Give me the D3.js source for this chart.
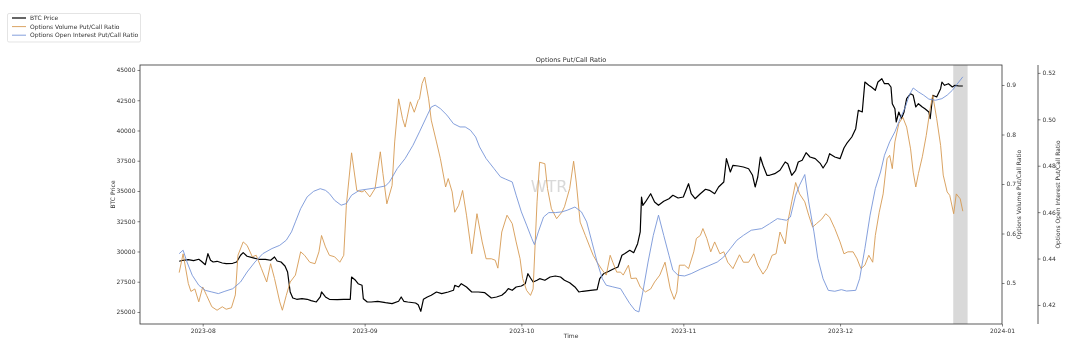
<!DOCTYPE html>
<html>
<head>
<meta charset="utf-8">
<script src="https://cdn.jsdelivr.net/npm/d3@7"></script>
<style>
  html, body { margin: 0; padding: 0; background: #fff; }
  svg { display: block; font-family: "DejaVu Sans", sans-serif; will-change: transform; }
  svg text { -webkit-font-smoothing: antialiased; }
</style>
</head>
<body>
<svg id="chart" width="1077" height="355"></svg>
<script>
// ---------------- DATA ----------------
const btcDates = ["2023-07-27 12","2023-07-28 06","2023-07-29 06","2023-07-30 06","2023-07-31 06","2023-07-31 18","2023-08-01 12","2023-08-02 00","2023-08-02 12","2023-08-03 00","2023-08-03 18","2023-08-04 18","2023-08-05 12","2023-08-06 18","2023-08-07 12","2023-08-08 06","2023-08-08 18","2023-08-09 12","2023-08-10 12","2023-08-11 18","2023-08-13 00","2023-08-14 00","2023-08-14 18","2023-08-15 06","2023-08-16 00","2023-08-16 18","2023-08-17 06","2023-08-17 12","2023-08-17 18","2023-08-18 06","2023-08-19 00","2023-08-20 00","2023-08-21 00","2023-08-21 18","2023-08-22 18","2023-08-23 12","2023-08-23 18","2023-08-24 12","2023-08-25 06","2023-08-26 18","2023-08-28 00","2023-08-29 06","2023-08-29 12","2023-08-30 06","2023-08-30 18","2023-08-31 12","2023-08-31 18","2023-09-01 12","2023-09-02 06","2023-09-03 12","2023-09-05 00","2023-09-06 06","2023-09-07 12","2023-09-08 00","2023-09-08 12","2023-09-09 06","2023-09-10 18","2023-09-11 06","2023-09-11 18","2023-09-12 06","2023-09-13 00","2023-09-13 18","2023-09-14 18","2023-09-15 18","2023-09-17 00","2023-09-18 00","2023-09-18 06","2023-09-19 00","2023-09-19 12","2023-09-20 12","2023-09-21 12","2023-09-22 18","2023-09-24 00","2023-09-25 06","2023-09-26 06","2023-09-27 06","2023-09-28 00","2023-09-28 12","2023-09-29 06","2023-09-30 00","2023-10-01 00","2023-10-01 18","2023-10-02 06","2023-10-02 18","2023-10-03 06","2023-10-04 00","2023-10-04 12","2023-10-05 12","2023-10-06 12","2023-10-07 12","2023-10-08 12","2023-10-09 06","2023-10-10 06","2023-10-11 06","2023-10-12 00","2023-10-12 18","2023-10-14 06","2023-10-15 12","2023-10-16 00","2023-10-16 18","2023-10-17 18","2023-10-18 12","2023-10-19 12","2023-10-20 06","2023-10-20 18","2023-10-21 18","2023-10-22 12","2023-10-23 06","2023-10-23 18","2023-10-24 00","2023-10-24 06","2023-10-24 18","2023-10-25 18","2023-10-26 12","2023-10-27 06","2023-10-28 06","2023-10-29 06","2023-10-30 00","2023-10-31 00","2023-11-01 00","2023-11-02 00","2023-11-02 12","2023-11-03 06","2023-11-04 06","2023-11-05 06","2023-11-06 00","2023-11-07 00","2023-11-07 18","2023-11-08 18","2023-11-09 06","2023-11-10 00","2023-11-10 12","2023-11-11 12","2023-11-12 12","2023-11-13 12","2023-11-14 06","2023-11-14 18","2023-11-15 06","2023-11-15 18","2023-11-16 06","2023-11-17 00","2023-11-17 12","2023-11-18 12","2023-11-19 12","2023-11-20 12","2023-11-21 00","2023-11-21 18","2023-11-22 12","2023-11-23 00","2023-11-23 18","2023-11-24 12","2023-11-25 06","2023-11-26 06","2023-11-27 06","2023-11-27 18","2023-11-28 12","2023-11-29 00","2023-11-30 00","2023-12-01 00","2023-12-01 18","2023-12-02 06","2023-12-03 06","2023-12-04 00","2023-12-04 12","2023-12-05 06","2023-12-05 18","2023-12-06 12","2023-12-07 00","2023-12-07 18","2023-12-08 06","2023-12-09 00","2023-12-09 12","2023-12-10 06","2023-12-10 18","2023-12-11 00","2023-12-11 12","2023-12-11 18","2023-12-12 06","2023-12-12 18","2023-12-13 06","2023-12-13 18","2023-12-14 12","2023-12-15 00","2023-12-15 12","2023-12-16 00","2023-12-16 18","2023-12-17 06","2023-12-18 00","2023-12-18 06","2023-12-18 18","2023-12-19 12","2023-12-20 06","2023-12-20 12","2023-12-21 00","2023-12-21 18","2023-12-22 12","2023-12-23 00","2023-12-23 18","2023-12-24 12"];
const btcPrice = [29191,29274,29323,29240,29356,29191,28910,29819,29274,29133,29191,29050,28993,29026,29133,29687,29902,29604,29489,29356,29356,29274,29546,29216,29133,28803,28307,27480,26654,26158,26051,26100,26051,25935,25828,26241,26654,26241,26051,26018,26051,26051,27894,27621,27340,27208,26100,25828,25828,25885,25770,25687,25885,26241,25885,25828,25745,25604,25059,26051,26241,26381,26654,26514,26654,26794,27208,27067,27340,27067,26654,26654,26596,26158,26241,26381,26654,26927,26794,27067,27150,27340,28166,27811,27480,27621,27753,27621,27894,27976,27894,27621,27423,27067,26654,26712,26794,26844,27753,28166,28365,28530,28720,29687,29819,30100,29902,30645,31612,34505,33819,34092,34777,34092,33819,34149,34364,34645,34422,34505,35604,34777,34364,34777,35141,35058,34777,35331,35744,37670,36571,37124,37067,36984,36843,36298,35331,36158,37810,37124,36298,36298,36430,36711,37397,37257,36298,36711,37397,37538,38166,37810,37670,37257,36901,37397,38083,37810,37670,38554,38909,39463,40149,41670,41529,44008,43736,43595,43322,44008,44281,43868,43868,43595,42215,41802,40703,41529,40975,41529,42628,43041,42909,41942,42215,41942,41802,41529,40975,42909,42769,43455,44008,43736,43868,43595,43736,43678,43678];

const volDates = ["2023-07-27 12","2023-07-28 06","2023-07-29 06","2023-07-29 18","2023-07-30 12","2023-07-31 06","2023-08-01 00","2023-08-01 18","2023-08-02 18","2023-08-03 18","2023-08-04 18","2023-08-05 12","2023-08-06 12","2023-08-07 06","2023-08-07 18","2023-08-08 18","2023-08-09 12","2023-08-10 12","2023-08-11 06","2023-08-12 06","2023-08-13 06","2023-08-14 00","2023-08-14 18","2023-08-15 18","2023-08-16 06","2023-08-17 00","2023-08-17 18","2023-08-18 18","2023-08-19 18","2023-08-20 12","2023-08-21 12","2023-08-22 12","2023-08-23 06","2023-08-23 18","2023-08-24 12","2023-08-25 06","2023-08-26 06","2023-08-27 06","2023-08-28 00","2023-08-28 12","2023-08-29 12","2023-08-30 12","2023-08-31 12","2023-09-01 00","2023-09-02 00","2023-09-03 00","2023-09-04 00","2023-09-04 12","2023-09-05 06","2023-09-06 06","2023-09-06 18","2023-09-07 12","2023-09-08 06","2023-09-08 18","2023-09-09 18","2023-09-10 12","2023-09-11 06","2023-09-11 12","2023-09-12 00","2023-09-12 12","2023-09-13 06","2023-09-13 18","2023-09-14 18","2023-09-15 12","2023-09-16 12","2023-09-17 00","2023-09-17 18","2023-09-18 06","2023-09-19 00","2023-09-19 18","2023-09-20 12","2023-09-21 12","2023-09-22 12","2023-09-23 12","2023-09-24 06","2023-09-25 06","2023-09-26 00","2023-09-26 12","2023-09-27 06","2023-09-28 06","2023-09-29 06","2023-09-30 00","2023-09-30 18","2023-10-01 06","2023-10-02 00","2023-10-02 18","2023-10-03 06","2023-10-04 00","2023-10-04 12","2023-10-05 12","2023-10-06 00","2023-10-06 18","2023-10-07 18","2023-10-08 18","2023-10-09 06","2023-10-10 06","2023-10-11 00","2023-10-11 12","2023-10-12 06","2023-10-13 06","2023-10-14 06","2023-10-14 18","2023-10-15 12","2023-10-16 12","2023-10-17 06","2023-10-18 00","2023-10-18 12","2023-10-19 06","2023-10-20 00","2023-10-20 12","2023-10-21 12","2023-10-22 00","2023-10-23 00","2023-10-23 18","2023-10-24 18","2023-10-25 18","2023-10-26 12","2023-10-27 12","2023-10-28 12","2023-10-29 12","2023-10-30 06","2023-10-30 18","2023-10-31 06","2023-11-01 06","2023-11-02 00","2023-11-03 00","2023-11-03 12","2023-11-04 06","2023-11-04 18","2023-11-05 12","2023-11-06 06","2023-11-07 00","2023-11-08 00","2023-11-08 18","2023-11-09 12","2023-11-10 12","2023-11-11 18","2023-11-12 12","2023-11-13 12","2023-11-14 12","2023-11-15 06","2023-11-16 06","2023-11-17 00","2023-11-18 00","2023-11-18 18","2023-11-19 12","2023-11-20 12","2023-11-21 00","2023-11-21 18","2023-11-22 12","2023-11-23 06","2023-11-24 06","2023-11-25 00","2023-11-25 18","2023-11-26 12","2023-11-27 12","2023-11-28 06","2023-11-29 00","2023-11-30 00","2023-12-01 00","2023-12-01 18","2023-12-02 12","2023-12-03 12","2023-12-04 06","2023-12-05 00","2023-12-05 18","2023-12-06 12","2023-12-07 06","2023-12-07 18","2023-12-08 12","2023-12-09 06","2023-12-10 00","2023-12-10 12","2023-12-11 00","2023-12-11 12","2023-12-12 06","2023-12-13 00","2023-12-13 18","2023-12-14 12","2023-12-15 00","2023-12-15 12","2023-12-16 00","2023-12-16 18","2023-12-17 12","2023-12-18 06","2023-12-18 18","2023-12-19 12","2023-12-20 06","2023-12-20 18","2023-12-21 12","2023-12-22 00","2023-12-22 18","2023-12-23 06","2023-12-24 00","2023-12-24 12"];
const volRatio = [0.521,0.559,0.499,0.483,0.488,0.462,0.492,0.475,0.452,0.445,0.452,0.447,0.450,0.476,0.556,0.583,0.576,0.553,0.556,0.529,0.502,0.539,0.509,0.462,0.445,0.475,0.502,0.516,0.563,0.556,0.542,0.539,0.563,0.596,0.573,0.556,0.553,0.542,0.556,0.657,0.763,0.687,0.684,0.687,0.674,0.691,0.765,0.721,0.660,0.697,0.785,0.872,0.832,0.815,0.866,0.845,0.869,0.872,0.903,0.916,0.872,0.829,0.785,0.751,0.694,0.711,0.684,0.643,0.657,0.687,0.637,0.559,0.640,0.583,0.549,0.549,0.546,0.530,0.603,0.637,0.620,0.583,0.549,0.509,0.485,0.475,0.488,0.664,0.744,0.741,0.691,0.650,0.630,0.643,0.654,0.691,0.746,0.704,0.623,0.596,0.569,0.556,0.542,0.526,0.516,0.556,0.542,0.522,0.522,0.516,0.536,0.509,0.510,0.492,0.482,0.488,0.502,0.516,0.542,0.488,0.467,0.482,0.536,0.536,0.529,0.563,0.590,0.596,0.610,0.590,0.563,0.583,0.559,0.563,0.542,0.529,0.557,0.542,0.542,0.559,0.536,0.518,0.529,0.556,0.559,0.603,0.579,0.623,0.664,0.703,0.680,0.664,0.637,0.613,0.620,0.629,0.640,0.633,0.610,0.583,0.559,0.563,0.563,0.549,0.529,0.536,0.556,0.542,0.596,0.643,0.680,0.751,0.758,0.731,0.785,0.822,0.835,0.815,0.771,0.724,0.694,0.721,0.755,0.798,0.852,0.879,0.832,0.778,0.718,0.684,0.677,0.640,0.680,0.670,0.645];

const oiDates = ["2023-07-27 12","2023-07-28 06","2023-07-29 00","2023-07-30 00","2023-07-31 06","2023-08-01 12","2023-08-02 18","2023-08-04 00","2023-08-05 06","2023-08-06 18","2023-08-08 06","2023-08-09 12","2023-08-11 00","2023-08-12 12","2023-08-14 06","2023-08-15 18","2023-08-17 00","2023-08-18 00","2023-08-18 18","2023-08-19 18","2023-08-21 00","2023-08-22 06","2023-08-23 12","2023-08-24 12","2023-08-25 06","2023-08-26 06","2023-08-27 12","2023-08-28 12","2023-08-29 12","2023-08-31 00","2023-09-03 00","2023-09-05 00","2023-09-05 18","2023-09-07 06","2023-09-08 18","2023-09-10 06","2023-09-11 12","2023-09-13 00","2023-09-13 18","2023-09-14 12","2023-09-15 12","2023-09-16 18","2023-09-18 00","2023-09-19 06","2023-09-20 06","2023-09-21 06","2023-09-22 06","2023-09-23 00","2023-09-24 06","2023-09-25 18","2023-09-27 00","2023-09-28 00","2023-09-29 06","2023-09-30 00","2023-10-01 00","2023-10-02 00","2023-10-03 00","2023-10-03 12","2023-10-04 06","2023-10-05 06","2023-10-06 06","2023-10-07 12","2023-10-08 18","2023-10-09 18","2023-10-11 06","2023-10-12 12","2023-10-13 12","2023-10-14 12","2023-10-15 12","2023-10-16 12","2023-10-17 06","2023-10-18 12","2023-10-20 00","2023-10-20 18","2023-10-21 18","2023-10-22 18","2023-10-23 12","2023-10-24 06","2023-10-25 06","2023-10-26 06","2023-10-27 06","2023-10-28 06","2023-10-29 06","2023-10-30 00","2023-10-31 00","2023-11-01 06","2023-11-02 12","2023-11-04 06","2023-11-05 18","2023-11-07 12","2023-11-08 18","2023-11-10 00","2023-11-11 06","2023-11-12 12","2023-11-14 00","2023-11-16 00","2023-11-17 12","2023-11-19 00","2023-11-19 18","2023-11-20 18","2023-11-21 12","2023-11-22 12","2023-11-23 06","2023-11-24 06","2023-11-25 00","2023-11-26 00","2023-11-26 18","2023-11-27 18","2023-11-28 18","2023-11-30 00","2023-12-01 06","2023-12-02 06","2023-12-04 00","2023-12-04 18","2023-12-05 18","2023-12-06 18","2023-12-07 18","2023-12-08 18","2023-12-09 12","2023-12-10 12","2023-12-11 12","2023-12-12 12","2023-12-13 12","2023-12-14 06","2023-12-15 00","2023-12-16 00","2023-12-17 00","2023-12-18 00","2023-12-19 06","2023-12-20 12","2023-12-21 12","2023-12-22 12","2023-12-23 06","2023-12-24 12"];
const oiRatio = [0.4421,0.4436,0.4385,0.4328,0.4285,0.4263,0.4256,0.4249,0.4259,0.4270,0.4299,0.4342,0.4385,0.4421,0.4443,0.4457,0.4479,0.4515,0.4558,0.4615,0.4666,0.4690,0.4701,0.4694,0.4680,0.4651,0.4630,0.4637,0.4673,0.4694,0.4704,0.4713,0.4730,0.4788,0.4831,0.4888,0.4946,0.5018,0.5053,0.5061,0.5046,0.5018,0.4981,0.4967,0.4967,0.4953,0.4924,0.4881,0.4831,0.4788,0.4752,0.4742,0.4730,0.4673,0.4601,0.4544,0.4486,0.4460,0.4515,0.4579,0.4598,0.4598,0.4601,0.4608,0.4622,0.4601,0.4558,0.4472,0.4385,0.4313,0.4285,0.4278,0.4270,0.4242,0.4206,0.4177,0.4170,0.4256,0.4385,0.4500,0.4587,0.4500,0.4414,0.4350,0.4328,0.4325,0.4335,0.4354,0.4368,0.4385,0.4407,0.4443,0.4479,0.4500,0.4522,0.4529,0.4550,0.4572,0.4569,0.4565,0.4579,0.4673,0.4716,0.4762,0.4644,0.4515,0.4400,0.4313,0.4263,0.4259,0.4266,0.4260,0.4263,0.4313,0.4443,0.4587,0.4701,0.4773,0.4845,0.4903,0.4946,0.5003,0.5053,0.5104,0.5135,0.5118,0.5104,0.5087,0.5082,0.5089,0.5104,0.5125,0.5147,0.5183];

const spanDates = ["2023-12-22 16","2023-12-25 10"];
const xDomainDates = ["2023-07-20 00","2024-01-01 00"];
const btcTicks = [25000,27500,30000,32500,35000,37500,40000,42500,45000];
const volTicks = [0.5,0.6,0.7,0.8,0.9];
const oiTicks = [0.42,0.44,0.46,0.48,0.50,0.52];
const monthTicks = ["2023-08-01 00","2023-09-01 00","2023-10-01 00","2023-11-01 00","2023-12-01 00","2024-01-01 00"];
const seriesNames = ["BTC Price","Options Volume Put/Call Ratio","Options Open Interest Put/Call Ratio"];
const btcRange = [24008,45413];
const volRange = [0.4172,0.9404];
const oiRange = [0.4118,0.5234];

// ---------------- LAYOUT ----------------
const parse = d3.timeParse("%Y-%m-%d %H");
const L = 140, R = 1002, T = 65, B = 324, R2 = 1038;
const colors = {btc: "#000000", vol: "#d69a52", oi: "#7795d8"};
const FONT = 6;
const TXT = "#333";

const svg = d3.select("#chart");

const x = d3.scaleTime().domain(xDomainDates.map(parse)).range([L, R]);
const yB = d3.scaleLinear().domain(btcRange).range([B, T]);
const yV = d3.scaleLinear().domain(volRange).range([B, T]);
const yO = d3.scaleLinear().domain(oiRange).range([B, T]);

// span
svg.append("rect")
  .attr("x", x(parse(spanDates[0])))
  .attr("y", T)
  .attr("width", x(parse(spanDates[1])) - x(parse(spanDates[0])))
  .attr("height", B - T)
  .attr("fill", "#d9d9d9");

// watermark
svg.append("text").attr("x", 549).attr("y", 192).attr("text-anchor", "middle")
  .attr("font-size", 16).attr("fill", "#cfcfcf").attr("fill-opacity", 0.8).text("WTR");

// lines
const mk = (dates, vals, ys) => d3.line()
  .x((d, i) => x(parse(dates[i])))
  .y((d) => ys(d))(vals);

svg.append("defs").append("clipPath").attr("id", "pc")
  .append("rect").attr("x", L).attr("y", T).attr("width", R - L).attr("height", B - T);

const g = svg.append("g").attr("clip-path", "url(#pc)");
g.append("path").attr("d", mk(btcDates, btcPrice, yB)).attr("fill", "none")
  .attr("stroke", colors.btc).attr("stroke-width", 1.2).attr("stroke-linejoin", "round");
g.append("path").attr("d", mk(volDates, volRatio, yV)).attr("fill", "none")
  .attr("stroke", colors.vol).attr("stroke-width", 0.9).attr("stroke-linejoin", "round");
g.append("path").attr("d", mk(oiDates, oiRatio, yO)).attr("fill", "none")
  .attr("stroke", colors.oi).attr("stroke-width", 0.9).attr("stroke-linejoin", "round");

// frame
svg.append("rect").attr("x", L).attr("y", T).attr("width", R - L).attr("height", B - T)
  .attr("fill", "none").attr("stroke", "#333").attr("stroke-width", 0.8);

function styleAxis(sel) {
  sel.attr("fill", TXT).attr("color", TXT);
  sel.selectAll(".domain").attr("stroke", "#333").attr("stroke-width", 0.8);
  sel.selectAll(".tick line").attr("stroke", "#333").attr("stroke-width", 0.6);
  sel.selectAll(".tick text").attr("font-size", FONT).attr("fill", TXT)
    .attr("font-family", "DejaVu Sans, sans-serif");
}

// axes
const fmtM = d3.timeFormat("%Y-%m");
const xAx = svg.append("g").attr("transform", `translate(0,${B})`)
  .call(d3.axisBottom(x).tickValues(monthTicks.map(parse)).tickFormat(fmtM).tickSize(2.5).tickPadding(2));
styleAxis(xAx);
xAx.select(".domain").remove();

const yAxL = svg.append("g").attr("transform", `translate(${L},0)`)
  .call(d3.axisLeft(yB).tickValues(btcTicks).tickFormat(d3.format("d")).tickSize(2.5).tickPadding(2));
styleAxis(yAxL);
yAxL.select(".domain").remove();

const yAxR = svg.append("g").attr("transform", `translate(${R},0)`)
  .call(d3.axisRight(yV).tickValues(volTicks).tickFormat(d3.format(".1f")).tickSize(2.5).tickPadding(2));
styleAxis(yAxR);
yAxR.select(".domain").remove();

const yAxR2 = svg.append("g").attr("transform", `translate(${R2},0)`)
  .call(d3.axisRight(yO).tickValues(oiTicks).tickFormat(d3.format(".2f")).tickSize(2.5).tickPadding(2).tickSizeOuter(0));
styleAxis(yAxR2);
yAxR2.select(".domain").attr("d", `M0,${T}V${B}`);

// labels
svg.append("text").attr("x", (L + R) / 2).attr("y", 61.5).attr("text-anchor", "middle")
  .attr("font-size", 6.5).attr("fill", TXT).text("Options Put/Call Ratio");
svg.append("text").attr("x", (L + R) / 2).attr("y", 338).attr("text-anchor", "middle")
  .attr("font-size", FONT).attr("fill", TXT).text("Time");
svg.append("text").attr("transform", `translate(115,${(T + B) / 2}) rotate(-90)`).attr("text-anchor", "middle")
  .attr("font-size", FONT).attr("fill", TXT).text("BTC Price");
svg.append("text").attr("transform", `translate(1021,${(T + B) / 2}) rotate(-90)`).attr("text-anchor", "middle")
  .attr("font-size", FONT).attr("fill", TXT).text(seriesNames[1]);
svg.append("text").attr("transform", `translate(1060,${(T + B) / 2}) rotate(-90)`).attr("text-anchor", "middle")
  .attr("font-size", FONT).attr("fill", TXT).text(seriesNames[2]);

// legend
const lg = svg.append("g");
lg.append("rect").attr("x", 7.5).attr("y", 13.5).attr("width", 133).attr("height", 28.5)
  .attr("rx", 1.5).attr("fill", "#fff").attr("stroke", "#d8d8d8").attr("stroke-width", 0.7);
const legCols = [colors.btc, colors.vol, colors.oi];
seriesNames.forEach((n, i) => {
  const yy = 18 + i * 8.6;
  lg.append("line").attr("x1", 12).attr("x2", 26).attr("y1", yy).attr("y2", yy)
    .attr("stroke", legCols[i]).attr("stroke-width", i === 0 ? 1.2 : 0.9);
  lg.append("text").attr("x", 30).attr("y", yy + 2).attr("font-size", FONT).attr("fill", TXT).text(n);
});
</script>
</body>
</html>
